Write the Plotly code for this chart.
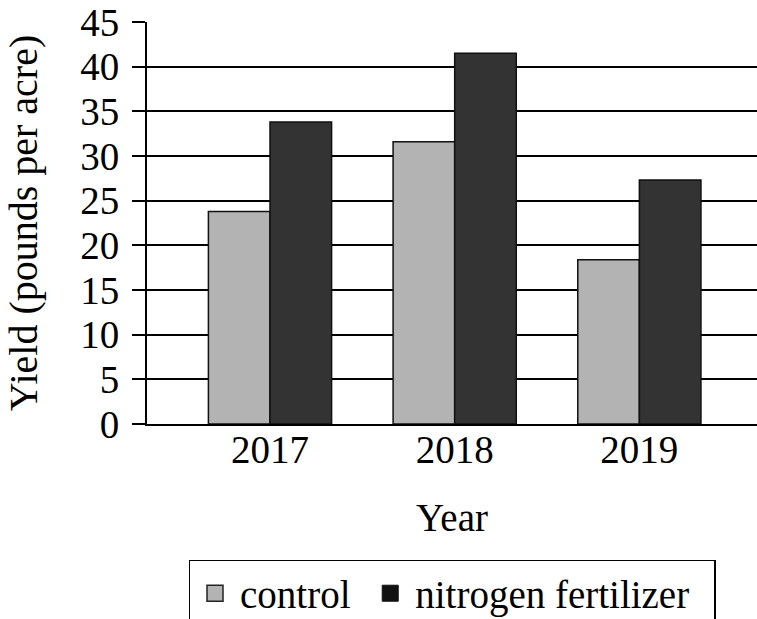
import plotly.graph_objects as go

years = ["2017", "2018", "2019"]
control = [23.8, 31.6, 18.4]
nitrogen = [33.8, 41.5, 27.3]
y_ticks = [0, 5, 10, 15, 20, 25, 30, 35, 40, 45]

FONT = "Liberation Serif"
CONTROL_COLOR = "#b3b3b3"
NITRO_COLOR = "#333333"
NBSP = "\u00a0"

fig = go.Figure()
fig.add_trace(go.Bar(
    x=years, y=control, name="control", showlegend=False,
    marker=dict(color=CONTROL_COLOR, line=dict(color="#111111", width=1.5)),
))
fig.add_trace(go.Bar(
    x=years, y=nitrogen, name="nitrogen fertilizer", showlegend=False,
    marker=dict(color=NITRO_COLOR, line=dict(color="#111111", width=1.5)),
))

# legend-only entries so the swatches can be bigger than the default bar icon
# (non-breaking spaces pad the entries like the boxed legend of the original)
fig.add_trace(go.Scatter(
    x=[None], y=[None], mode="markers", name="control" + NBSP,
    marker=dict(symbol="square", size=20, color=CONTROL_COLOR,
                line=dict(color="#222222", width=1.5)),
))
fig.add_trace(go.Scatter(
    x=[None], y=[None], mode="markers", name="nitrogen fertilizer" + NBSP * 2,
    marker=dict(symbol="square", size=23, color="#111111",
                line=dict(color="#111111", width=1)),
))

fig.update_layout(
    width=757, height=619,
    margin=dict(l=147, r=0, t=22, b=195, autoexpand=False),
    plot_bgcolor="white", paper_bgcolor="white",
    font=dict(family=FONT, size=39, color="black"),
    barmode="group", bargap=0.333, bargroupgap=0,
    showlegend=True,
    legend=dict(
        orientation="h", x=0.5, xanchor="center", y=-0.338, yanchor="top",
        bordercolor="black", borderwidth=1.5,
        font=dict(family=FONT, size=39, color="black"),
        itemsizing="trace", itemwidth=40,
    ),
)

fig.update_xaxes(
    type="category", range=[-0.666, 2.637],
    showline=True, linecolor="black", linewidth=2,
    ticks="", showgrid=False,
    ticklabelstandoff=-10,
    tickfont=dict(family=FONT, size=39),
    title=dict(text="Year", font=dict(family=FONT, size=39), standoff=34),
)
fig.update_yaxes(
    range=[0, 45], tickvals=y_ticks,
    showline=True, linecolor="black", linewidth=2,
    ticks="outside", ticklen=13, tickcolor="black", tickwidth=2,
    ticklabelstandoff=5,
    showgrid=True, gridcolor="black", gridwidth=2,
    zeroline=False,
    tickfont=dict(family=FONT, size=39),
    title=dict(text="Yield (pounds per acre)", font=dict(family=FONT, size=40), standoff=30),
)

# drop the default body margin so the 757x619 figure fills the window exactly
fig.write_html(
    "out.html",
    config={"displayModeBar": False},
    post_script="document.body.style.margin='0';",
)
